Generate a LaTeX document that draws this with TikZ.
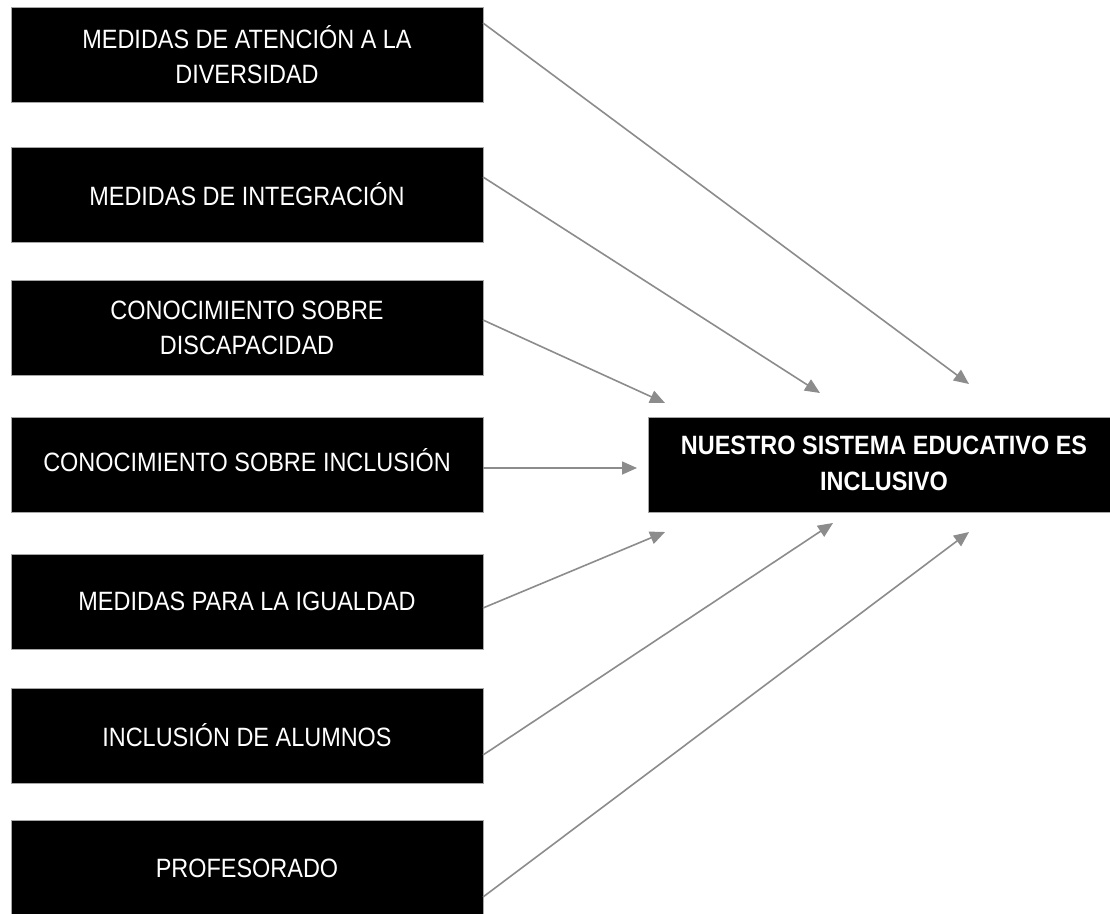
\documentclass[tikz,border=0pt]{standalone}
\usepackage{fontspec}
\setmainfont{Liberation Sans}[FakeStretch=0.885]
\usetikzlibrary{arrows.meta}
\definecolor{linegray}{HTML}{8C8C8C}
\definecolor{edgegray}{HTML}{A6A6A6}
\tikzset{
  factor/.style={draw=edgegray, line width=0.8pt, fill=black, text=white,
    minimum width=472pt, minimum height=95pt, inner sep=0pt, outer sep=0pt,
    align=center, font=\fontsize{26.5}{35}\selectfont},
  target/.style={factor, font=\fontsize{26.5}{36}\selectfont\bfseries},
  arr/.style={draw=linegray, line width=1.6pt,
    -{Triangle[length=15pt,width=13pt,fill=linegray]}}
}
\begin{document}
\begin{tikzpicture}[x=1pt,y=-1pt]
\useasboundingbox[fill=white] (0,0) rectangle (1110,913);
\node[factor] (b1) at (247,55) {MEDIDAS DE ATENCIÓN A LA\\DIVERSIDAD};
\node[factor] (b2) at (247,194.5) {MEDIDAS DE INTEGRACIÓN};
\node[factor] (b3) at (247,328) {CONOCIMIENTO SOBRE\\DISCAPACIDAD};
\node[factor] (b4) at (247,464.5) {\raisebox{9pt}{CONOCIMIENTO SOBRE INCLUSIÓN}};
\node[factor] (b5) at (247,601.5) {MEDIDAS PARA LA IGUALDAD};
\node[factor] (b6) at (247,735.5) {INCLUSIÓN DE ALUMNOS};
\node[factor] (b7) at (247,868) {PROFESORADO};
\node[target] (r) at (884,464.5) {\raisebox{3pt}{NUESTRO SISTEMA EDUCATIVO ES}\\\raisebox{3pt}{INCLUSIVO}};
\coordinate (t1) at (969,384);
\coordinate (t2) at (820,393);
\coordinate (t3) at (665,403);
\coordinate (t4) at (637,468);
\coordinate (t5) at (665,532);
\coordinate (t6) at (833,523);
\coordinate (t7) at (969,532);
\draw[arr] ([yshift=32pt]b1.east) -- (t1);
\draw[arr] ([yshift=17.5pt]b2.east) -- (t2);
\draw[arr] ([yshift=8pt]b3.east) -- (t3);
\draw[arr] ([yshift=-3.5pt]b4.east) -- (t4);
\draw[arr] ([yshift=-6.5pt]b5.east) -- (t5);
\draw[arr] ([yshift=-19.5pt]b6.east) -- (t6);
\draw[arr] ([yshift=-29pt]b7.east) -- (t7);
\end{tikzpicture}
\end{document}
